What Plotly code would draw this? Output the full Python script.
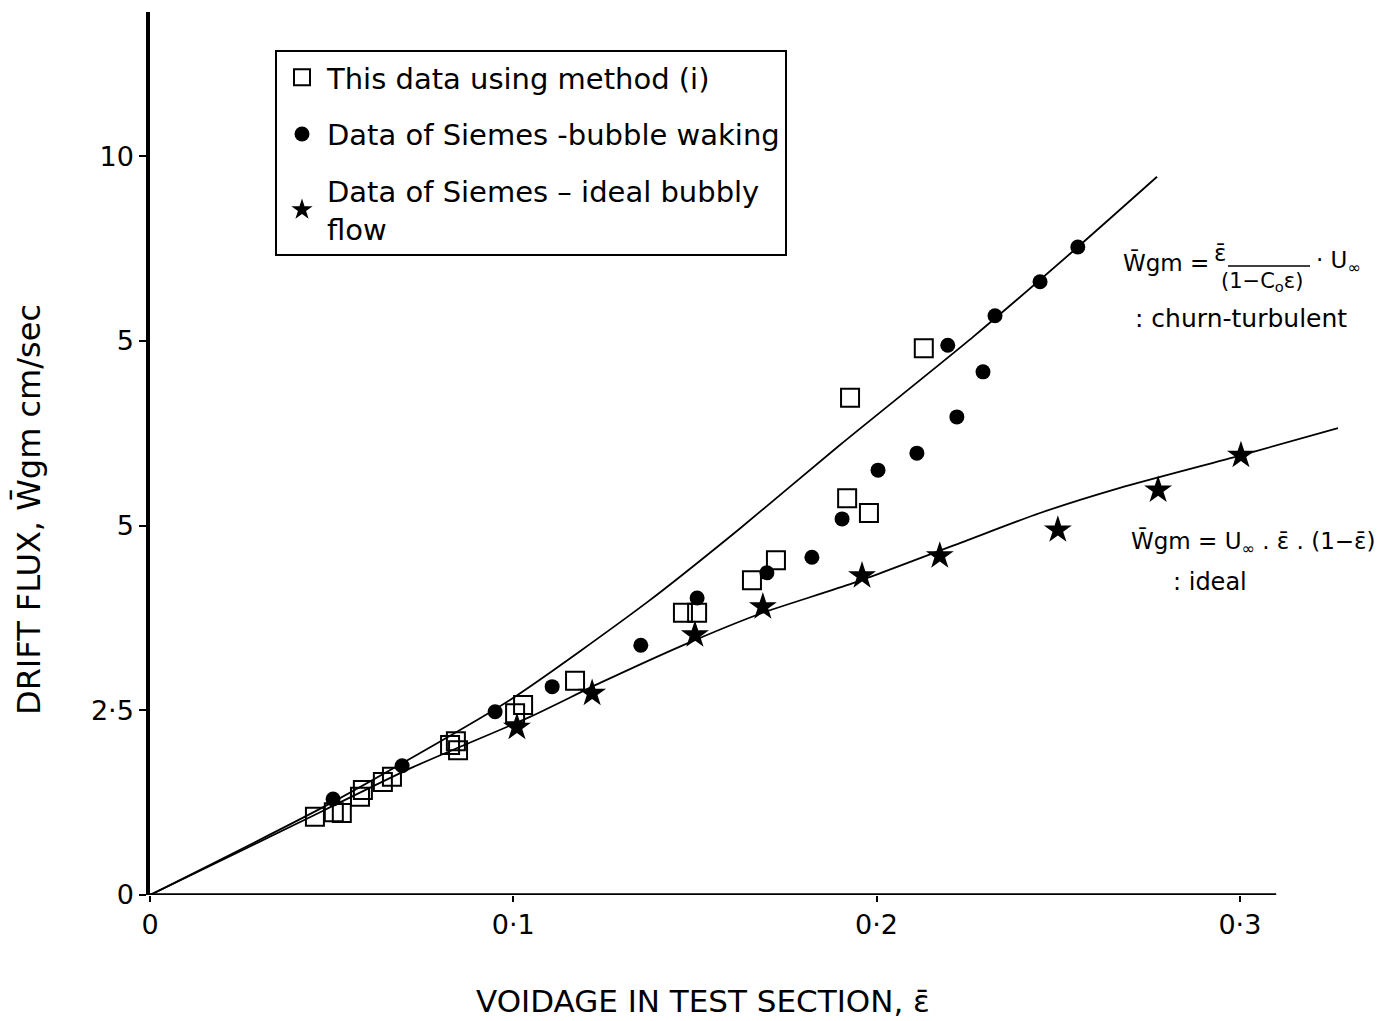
import plotly.graph_objects as go

# ---- data: voidage (x) and drift flux in cm/sec (y) ----
method_i_x = [0.0454, 0.0506, 0.0528, 0.0578, 0.0586, 0.0641, 0.0666, 0.0826, 0.0842, 0.0848,
              0.1005, 0.1027, 0.1170, 0.1467, 0.1506, 0.1657, 0.1723, 0.1919, 0.1979, 0.1927, 0.2130]
method_i_y = [1.06, 1.12, 1.11, 1.33, 1.42, 1.53, 1.60, 2.03, 2.08, 1.96,
              2.46, 2.57, 2.90, 3.82, 3.82, 4.26, 4.53, 5.37, 5.17, 6.73, 7.40]

waking_x = [0.0504, 0.0694, 0.0950, 0.1107, 0.1351, 0.1506, 0.1698, 0.1822, 0.1905,
            0.2004, 0.2111, 0.2221, 0.2293, 0.2196, 0.2326, 0.2450, 0.2554]
waking_y = [1.30, 1.75, 2.48, 2.82, 3.38, 4.02, 4.36, 4.57, 5.09,
            5.75, 5.98, 6.47, 7.08, 7.44, 7.84, 8.30, 8.77]

ideal_pts_x = [0.1010, 0.1217, 0.1500, 0.1687, 0.1960, 0.2174, 0.2499, 0.2775, 0.3003]
ideal_pts_y = [2.27, 2.73, 3.52, 3.90, 4.32, 4.59, 4.94, 5.48, 5.95]

# drawn correlation curves
churn_x = [0, 0.0504, 0.0991, 0.1368, 0.1624, 0.1899, 0.2265, 0.2554, 0.2772]
churn_y = [0, 1.26, 2.64, 3.96, 4.96, 6.09, 7.55, 8.77, 9.72]
ideal_x = [0, 0.0385, 0.0724, 0.1046, 0.1239, 0.1500, 0.1687, 0.1935, 0.2249, 0.2450,
           0.2670, 0.3003, 0.327]
ideal_y = [0, 0.92, 1.73, 2.41, 2.87, 3.45, 3.82, 4.22, 4.80, 5.17,
           5.51, 5.95, 6.32]

x_ticks = [0, 0.1, 0.2, 0.3]
x_tick_text = ["0", "0·1", "0·2", "0·3"]
y_ticks = [0, 2.5, 5, 7.5, 10]
y_tick_text = ["0", "2·5", "5", "5", "10"]

# ---- layout geometry ----
W, H = 1391, 1021
ML, MR, MT, MB = 150, 24, 12, 126
PW, PH = W - ML - MR, H - MT - MB
FONT = "DejaVu Sans"


def px(x):
    return (x - ML) / PW


def py(y):
    return (H - MB - y) / PH


fig = go.Figure()

curve_line = dict(color="black", width=1.8, shape="spline", smoothing=0.6)
fig.add_trace(go.Scatter(x=churn_x, y=churn_y, mode="lines", showlegend=False,
                         line=curve_line, hoverinfo="skip"))
fig.add_trace(go.Scatter(x=ideal_x, y=ideal_y, mode="lines", showlegend=False,
                         line=curve_line, hoverinfo="skip"))

fig.add_trace(go.Scatter(x=method_i_x, y=method_i_y, mode="markers",
                         name="This data using method (i)", legendgroup="a",
                         marker=dict(symbol="square-open", size=18, color="black",
                                     line=dict(width=2, color="black"))))
fig.add_trace(go.Scatter(x=waking_x, y=waking_y, mode="markers",
                         name="Data of Siemes -bubble waking", legendgroup="b",
                         marker=dict(symbol="circle", size=15, color="black")))
fig.add_trace(go.Scatter(x=ideal_pts_x, y=ideal_pts_y, mode="markers",
                         name="Data of Siemes – ideal bubbly<br>flow", legendgroup="c",
                         marker=dict(symbol="star", size=21, color="black")))

annots = [
    dict(text="VOIDAGE IN TEST SECTION, ε̄", x=px(703), y=py(1001), size=31),
    dict(text="DRIFT FLUX, W̄gm cm/sec", x=px(28), y=py(510), size=32, angle=-90),
    dict(text="W̄gm =", x=px(1166), y=py(262), size=23),
    dict(text="ε̄", x=px(1220), y=py(253), size=23),
    dict(text="(1−C<sub>o</sub>ε)", x=px(1262), y=py(282), size=21),
    dict(text="· U<sub>∞</sub>", x=px(1338), y=py(262), size=23),
    dict(text=": churn-turbulent", x=px(1241), y=py(318), size=25),
    dict(text="W̄gm = U<sub>∞</sub> . ε̄ . (1−ε̄)", x=px(1253), y=py(542), size=23),
    dict(text=": ideal", x=px(1210), y=py(582), size=24),
]
for a in annots:
    fig.add_annotation(text=a["text"], x=a["x"], y=a["y"], xref="paper", yref="paper",
                       showarrow=False, xanchor="center", yanchor="middle",
                       textangle=a.get("angle", 0),
                       font=dict(family=FONT, size=a["size"], color="black"))

# fraction bar of the churn-turbulent expression
fig.add_shape(type="line", xref="paper", yref="paper",
              x0=px(1228), x1=px(1310), y0=py(266), y1=py(266),
              line=dict(color="black", width=1.5))
# horizontal axis line, ending short of the plotting region
fig.add_shape(type="line", xref="x", yref="y", x0=0, x1=0.31, y0=0, y1=0,
              line=dict(color="black", width=3.5))

fig.update_layout(
    width=W, height=H,
    margin=dict(l=ML, r=MR, t=MT, b=MB),
    paper_bgcolor="white", plot_bgcolor="white",
    font=dict(family=FONT, size=24, color="black"),
    showlegend=True,
    legend=dict(x=px(275), y=py(50), xanchor="left", yanchor="top",
                bgcolor="white", bordercolor="black", borderwidth=2,
                font=dict(family=FONT, size=29, color="black"),
                traceorder="grouped", tracegroupgap=16, itemsizing="trace",
                itemwidth=40),
    xaxis=dict(range=[0, 0.335], showgrid=False, zeroline=False, showline=False,
               tickvals=x_ticks, ticktext=x_tick_text, ticks="outside", ticklen=6,
               tickwidth=2, tickcolor="black", tickfont=dict(size=27)),
    yaxis=dict(range=[0, 11.95], showgrid=False, zeroline=False, showline=True,
               linecolor="black", linewidth=3.5,
               tickvals=y_ticks, ticktext=y_tick_text, ticks="outside", ticklen=7,
               tickwidth=2, tickcolor="black", tickfont=dict(size=27)),
)

fig.write_html("out.html")
